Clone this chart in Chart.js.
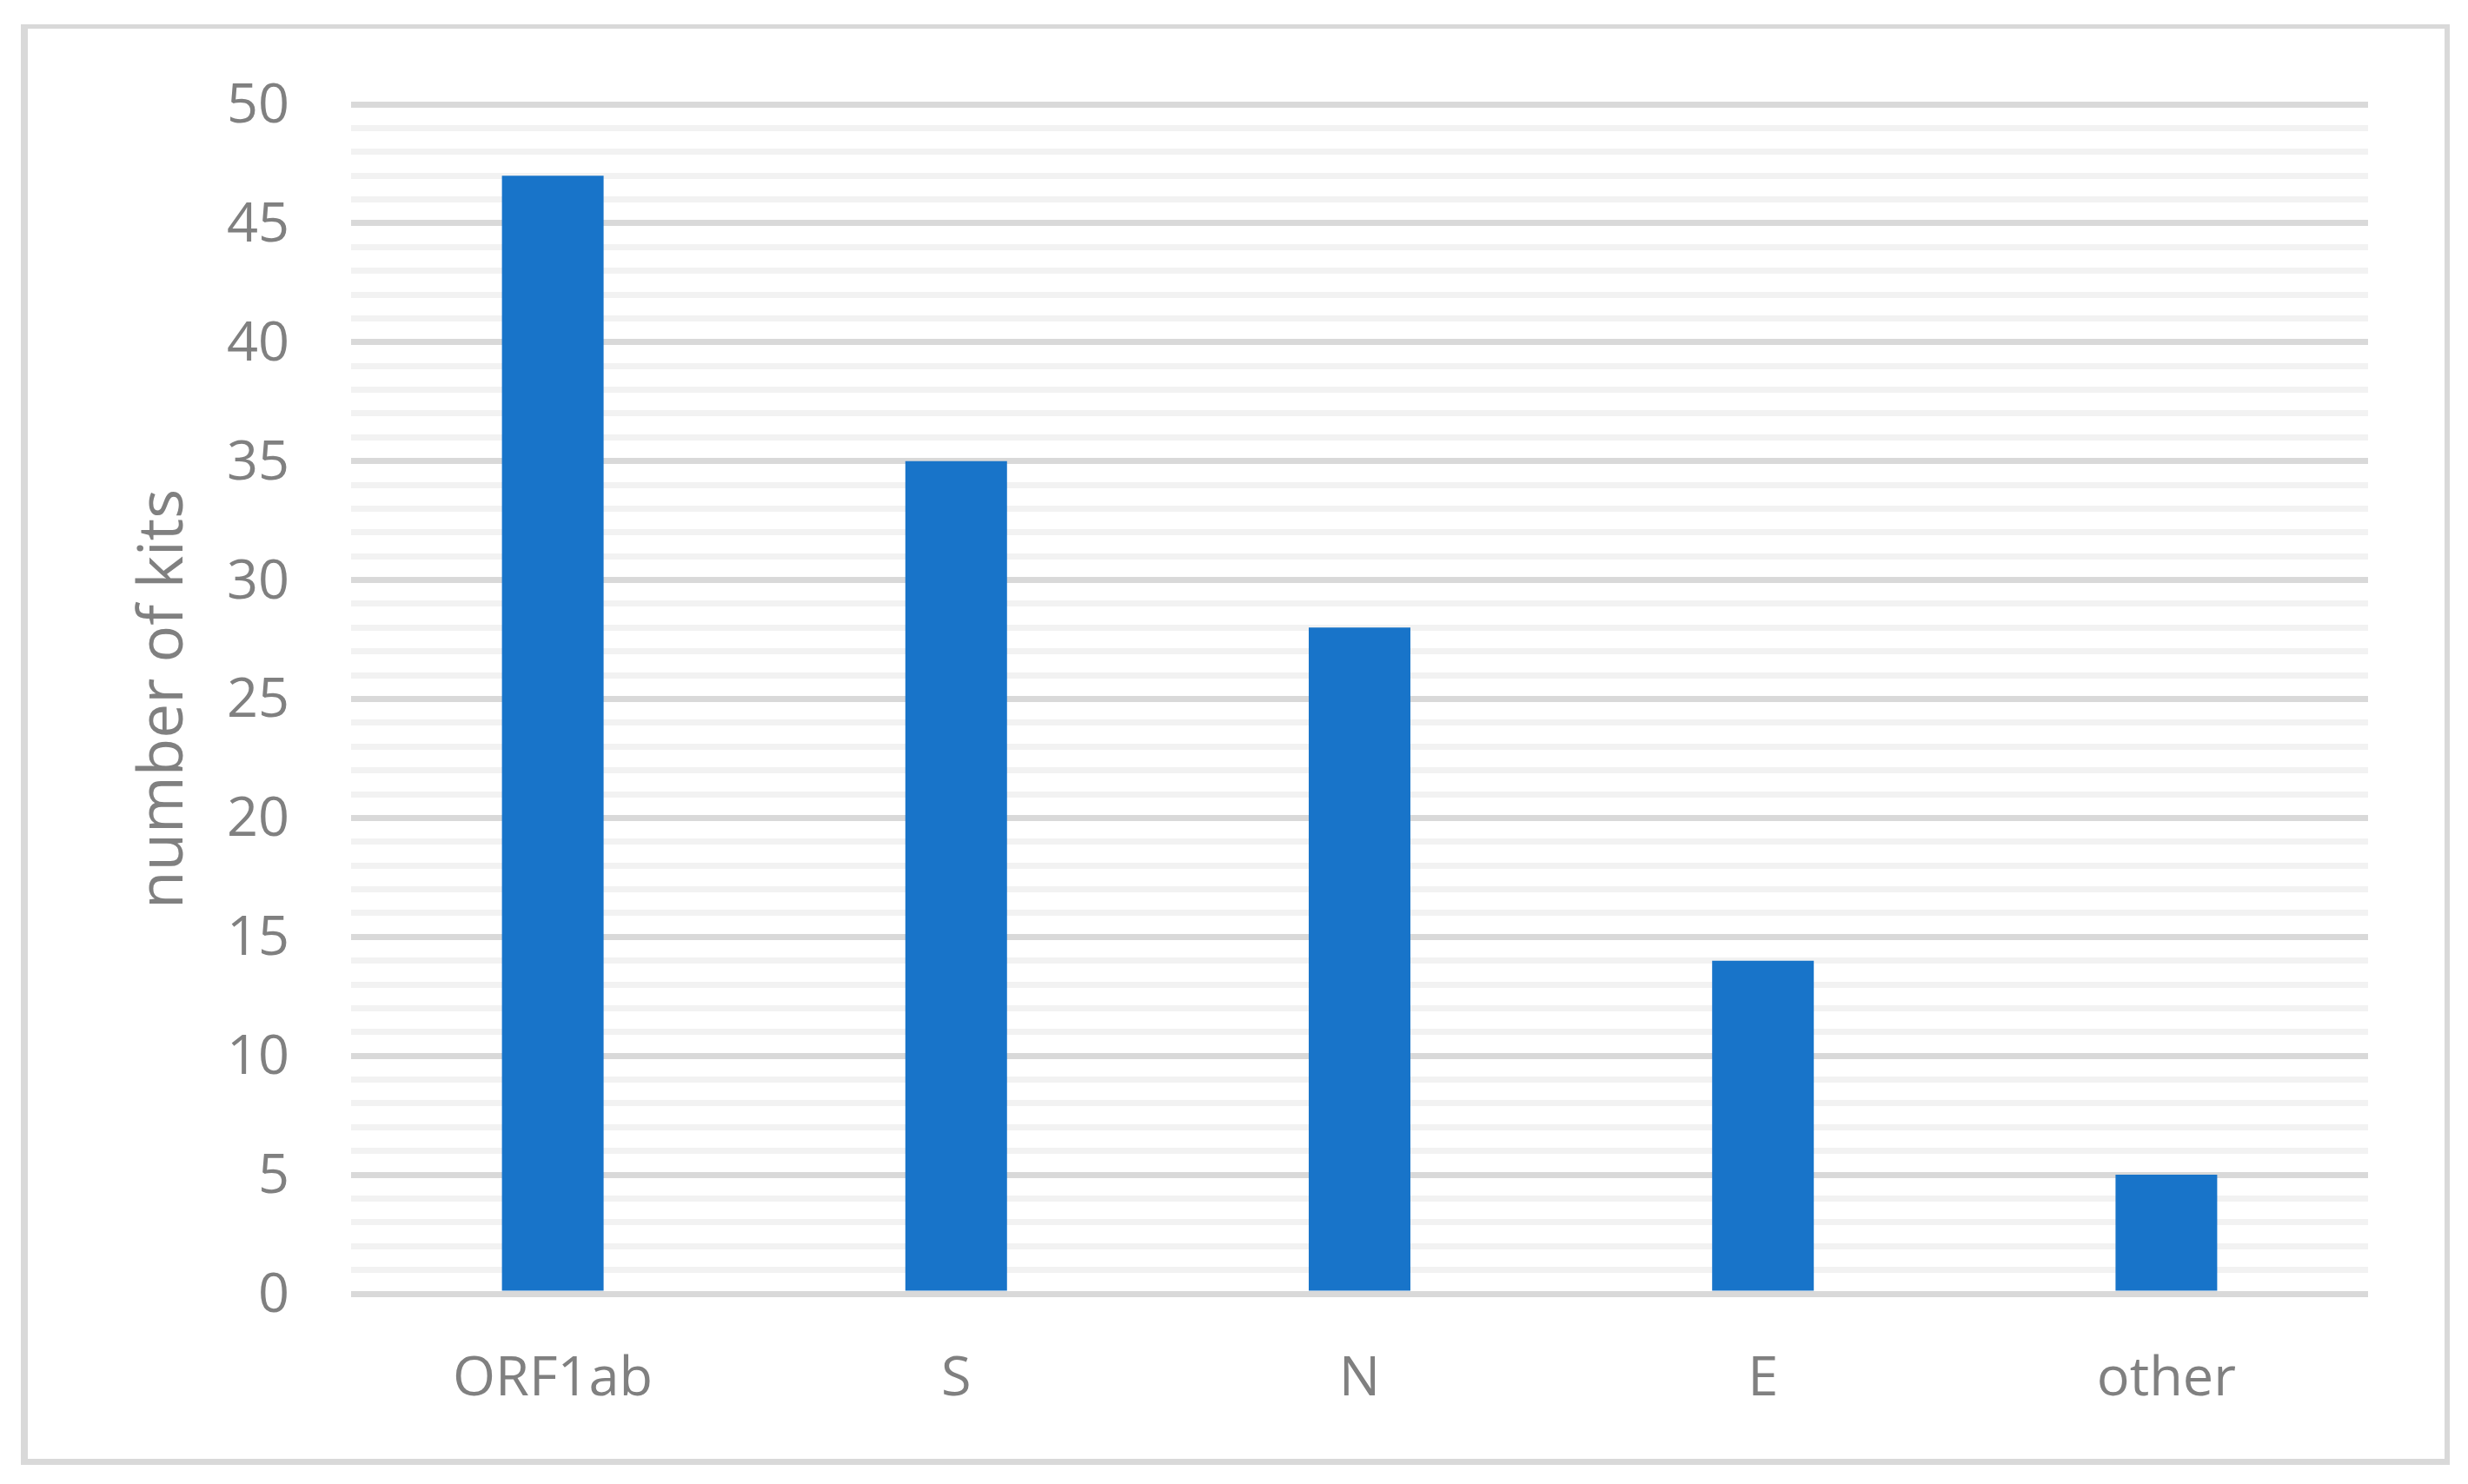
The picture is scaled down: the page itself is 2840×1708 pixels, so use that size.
<!DOCTYPE html>
<html>
<head>
<meta charset="utf-8">
<title>number of kits</title>
<script src="https://cdn.jsdelivr.net/npm/chart.js@4/dist/chart.umd.min.js"></script>
<style>
  html, body { margin: 0; padding: 0; background: #ffffff; }
  #frame {
    position: absolute;
    left: 24px; top: 28px;
    width: 2781px; height: 1646px;
    border-style: solid;
    border-color: #d9d9d9;
    border-width: 5px 6px 7px 8px;
  }
  #chart { position: absolute; left: 0; top: 0; }
</style>
</head>
<body>
<div id="frame"></div>
<canvas id="chart" width="2840" height="1708"></canvas>
<script>
// Target genes and how many kits use each
const categories = ['ORF1ab', 'S', 'N', 'E', 'other'];
const kitCounts = [47, 35, 28, 14, 5];

// Value axis: 0..50, gridline every 1, labels every 5
const yMin = 0;
const yMax = 50;
const yLabelStep = 5;
const yTitle = 'number of kits';

const textColor = '#808080';
const fontFamily = "'Open Sans', 'Noto Sans', sans-serif";

new Chart(document.getElementById('chart'), {
  type: 'bar',
  data: {
    labels: categories,
    datasets: [{
      data: kitCounts,
      backgroundColor: '#1874C9',
      borderWidth: 0,
      categoryPercentage: 1,
      barPercentage: 0.252
    }]
  },
  options: {
    responsive: false,
    animation: false,
    devicePixelRatio: 1,
    layout: { padding: { top: 120, right: 115, bottom: 0, left: 0 } },
    plugins: { legend: { display: false }, tooltip: { enabled: false } },
    scales: {
      x: {
        grid: { display: false, drawTicks: false },
        border: { display: false },
        ticks: {
          color: textColor,
          font: { family: fontFamily, size: 63 },
          padding: 61,
          maxRotation: 0
        },
        afterFit(scale) { scale.height = 219; }
      },
      y: {
        min: yMin,
        max: yMax,
        grid: {
          drawTicks: false,
          lineWidth: 7,
          color: (ctx) => (ctx.tick && ctx.tick.value % yLabelStep === 0) ? '#d9d9d9' : '#f2f2f2'
        },
        border: { display: false },
        ticks: {
          stepSize: 1,
          autoSkip: false,
          maxTicksLimit: 100,
          color: textColor,
          font: { family: fontFamily, size: 63 },
          padding: 71,
          labelOffset: 3,
          callback: (v) => (v % yLabelStep === 0 ? String(v) : '')
        },
        title: {
          display: true,
          text: yTitle,
          color: textColor,
          font: { family: fontFamily, size: 71 },
          padding: { top: 147, bottom: 0 }
        },
        afterFit(scale) { scale.width = 404; }
      }
    }
  }
});
</script>
</body>
</html>
